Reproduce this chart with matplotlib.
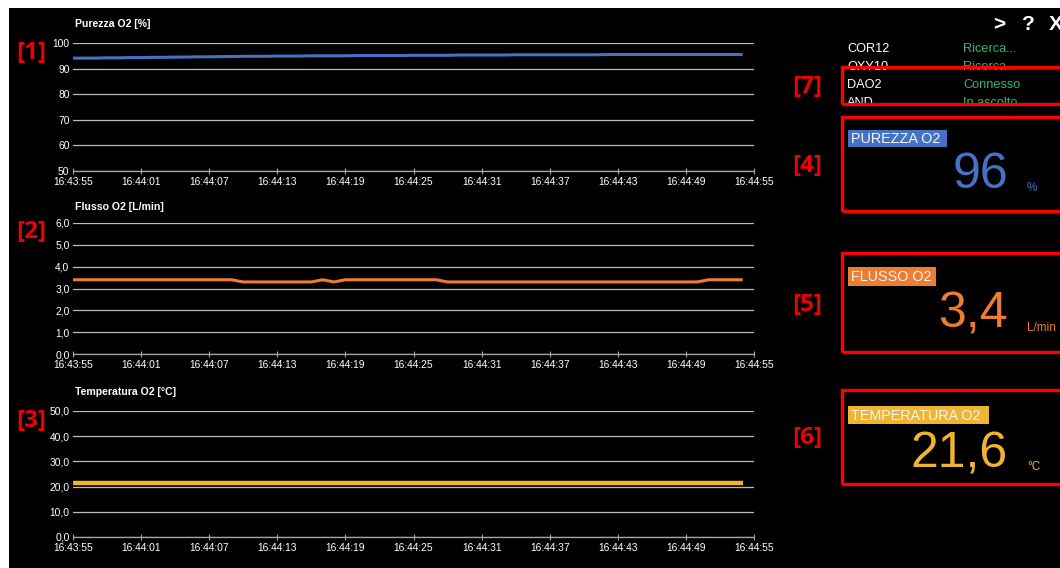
import numpy as np
import matplotlib
matplotlib.use("Agg")
import matplotlib.pyplot as plt
from matplotlib.patches import Rectangle
from matplotlib.ticker import FuncFormatter

plt.rcParams['font.family'] = ['Liberation Sans', 'DejaVu Sans']

# ---------------- data ----------------
time_labels = ["16:43:55", "16:44:01", "16:44:07", "16:44:13", "16:44:19", "16:44:25",
               "16:44:31", "16:44:37", "16:44:43", "16:44:49", "16:44:55"]

purity = [94.1, 94.1, 94.1, 94.2, 94.2, 94.3, 94.3, 94.4, 94.4, 94.5,
          94.5, 94.6, 94.6, 94.7, 94.7, 94.8, 94.8, 94.8, 94.9, 94.9,
          94.9, 95.0, 95.0, 95.0, 95.0, 95.1, 95.1, 95.1, 95.1, 95.1,
          95.2, 95.2, 95.2, 95.2, 95.3, 95.3, 95.3, 95.3, 95.3, 95.4,
          95.4, 95.4, 95.4, 95.4, 95.4, 95.4, 95.4, 95.5, 95.5, 95.5,
          95.5, 95.5, 95.5, 95.5, 95.5, 95.5, 95.5, 95.5, 95.5, 95.5]

flow = [3.4, 3.4, 3.4, 3.4, 3.4, 3.4, 3.4, 3.4, 3.4, 3.4,
        3.4, 3.4, 3.4, 3.4, 3.4, 3.3, 3.3, 3.3, 3.3, 3.3,
        3.3, 3.3, 3.4, 3.3, 3.4, 3.4, 3.4, 3.4, 3.4, 3.4,
        3.4, 3.4, 3.4, 3.3, 3.3, 3.3, 3.3, 3.3, 3.3, 3.3,
        3.3, 3.3, 3.3, 3.3, 3.3, 3.3, 3.3, 3.3, 3.3, 3.3,
        3.3, 3.3, 3.3, 3.3, 3.3, 3.3, 3.4, 3.4, 3.4, 3.4]

temperature = [21.6] * 60

status_devices = ["COR12", "OXY10", "DAO2", "AND"]
status_texts = ["Ricerca...", "Ricerca...", "Connesso", "In ascolto"]

panel_titles = ["PUREZZA O2", "FLUSSO O2", "TEMPERATURA O2"]
panel_values = ["96", "3,4", "21,6"]
panel_units = ["%", "L/min", "°C"]

chart_titles = ["Purezza O2 [%]", "Flusso O2 [L/min]", "Temperatura O2 [°C]"]

# ---------------- layout ----------------
W, H = 1060, 568
fig = plt.figure(figsize=(W / 100, H / 100), dpi=100, facecolor='white')

def fx(x):
    return x / W

def fy(y):
    return 1 - y / H

def frect(x0, y0, x1, y1, **kw):
    r = Rectangle((fx(x0), fy(y1)), (x1 - x0) / W, (y1 - y0) / H,
                  transform=fig.transFigure, **kw)
    fig.add_artist(r)
    return r

# black background with white strip at top & left
frect(9, 8, W + 5, H + 5, facecolor='black', edgecolor='none', zorder=-10)

BLUE = '#4472c4'
ORANGE = '#ed7d31'
GOLD = '#f0b530'

t = np.arange(len(purity))
ticks = np.arange(0, 61, 6)

charts = [
    dict(top=43, bottom=171, data=purity, ylim=(50, 100), yticks=np.arange(50, 101, 10),
         fmt=lambda v, p: f"{v:.0f}", color=BLUE, lw=2.2, title_y=24),
    dict(top=223, bottom=354, data=flow, ylim=(0, 6), yticks=np.arange(0, 6.01, 1),
         fmt=lambda v, p: f"{v:.1f}".replace('.', ','), color=ORANGE, lw=2.2, title_y=207),
    dict(top=411, bottom=537, data=temperature, ylim=(0, 50), yticks=np.arange(0, 50.1, 10),
         fmt=lambda v, p: f"{v:.1f}".replace('.', ','), color=GOLD, lw=3.2, title_y=392),
]

left, right = 73, 754
for i, c in enumerate(charts):
    ax = fig.add_axes([fx(left), fy(c['bottom']), (right - left) / W, (c['bottom'] - c['top']) / H])
    ax.set_facecolor('none')
    ax.plot(t, c['data'], color=c['color'], lw=c['lw'], solid_capstyle='butt', zorder=3)
    ax.set_xlim(0, 60)
    ax.set_ylim(*c['ylim'])
    ax.set_yticks(c['yticks'])
    ax.yaxis.set_major_formatter(FuncFormatter(c['fmt']))
    ax.set_xticks(ticks)
    ax.set_xticklabels(time_labels)
    ax.grid(axis='y', color='#bdbdbd', lw=0.9, zorder=1)
    ax.set_axisbelow(True)
    for s in ['top', 'right', 'left']:
        ax.spines[s].set_visible(False)
    ax.spines['bottom'].set_color('#a8a8a8')
    ax.spines['bottom'].set_linewidth(0.9)
    ax.tick_params(axis='y', length=0, pad=2.5, labelsize=7.4, labelcolor='white')
    ax.tick_params(axis='x', direction='inout', length=5, width=0.8, color='#a8a8a8',
                   pad=1.5, labelsize=7.4, labelcolor='white')
    fig.text(fx(75), fy(c['title_y']), chart_titles[i], color='white', fontsize=7.6,
             fontweight='bold', ha='left', va='center')

# ---------------- red annotation labels ----------------
RED = '#ee0000'
ann = [("[1]", 31, 53), ("[2]", 31, 232), ("[3]", 31, 421),
       ("[7]", 807, 87), ("[4]", 807, 166), ("[5]", 807, 305), ("[6]", 807, 438)]
for txt, x, y in ann:
    fig.text(fx(x), fy(y), txt, color=RED, fontsize=17.5, fontweight='bold',
             family=['Open Sans', 'DejaVu Sans'], ha='center', va='center')

# ---------------- top right icons ----------------
for s, x in [(">", 999), ("?", 1028), ("X", 1056)]:
    fig.text(fx(x), fy(25), s, color='white', fontsize=15, fontweight='bold',
             ha='center', va='center')

# ---------------- status list ----------------
GREEN = '#2fb67a'
for k, (d, s) in enumerate(zip(status_devices, status_texts)):
    y = 49 + 18 * k
    fig.text(fx(847), fy(y), d, color='white', fontsize=9.2, ha='left', va='center', zorder=3)
    fig.text(fx(963), fy(y), s, color=GREEN, fontsize=9.2, ha='left', va='center', zorder=3)
# mask below box [7]
frect(841, 105, W + 5, 113, facecolor='black', edgecolor='none', zorder=8)

# ---------------- red boxes ----------------
for y0, y1 in [(67, 104), (117, 211), (253, 352), (390, 484)]:
    frect(842, y0, W + 20, y1, facecolor='none', edgecolor='#ff0000', lw=2.4, zorder=10)

# ---------------- value panels ----------------
panels = [
    dict(box=(848, 130, 947, 147), val_y=188, unit_y=191, color=BLUE, title_bg=BLUE),
    dict(box=(848, 267, 936, 286), val_y=328, unit_y=331, color=ORANGE, title_bg=ORANGE),
    dict(box=(848, 406, 989, 424), val_y=468, unit_y=470, color=GOLD, title_bg=GOLD),
]
for k, p in enumerate(panels):
    x0, y0, x1, y1 = p['box']
    frect(x0, y0, x1, y1, facecolor=p['title_bg'], edgecolor='none', zorder=4)
    fig.text(fx(851), fy((y0 + y1) / 2 + 0.5), panel_titles[k], color='#f4f4f4',
             fontsize=10.4, ha='left', va='center', zorder=5)
    fig.text(fx(1008), fy(p['val_y']), panel_values[k], color=p['color'], fontsize=36,
             ha='right', va='baseline', zorder=5)
    fig.text(fx(1027), fy(p['unit_y']), panel_units[k], color=p['color'], fontsize=8.5,
             ha='left', va='baseline', zorder=5)

fig.savefig("out.png", dpi=100, facecolor='white')
